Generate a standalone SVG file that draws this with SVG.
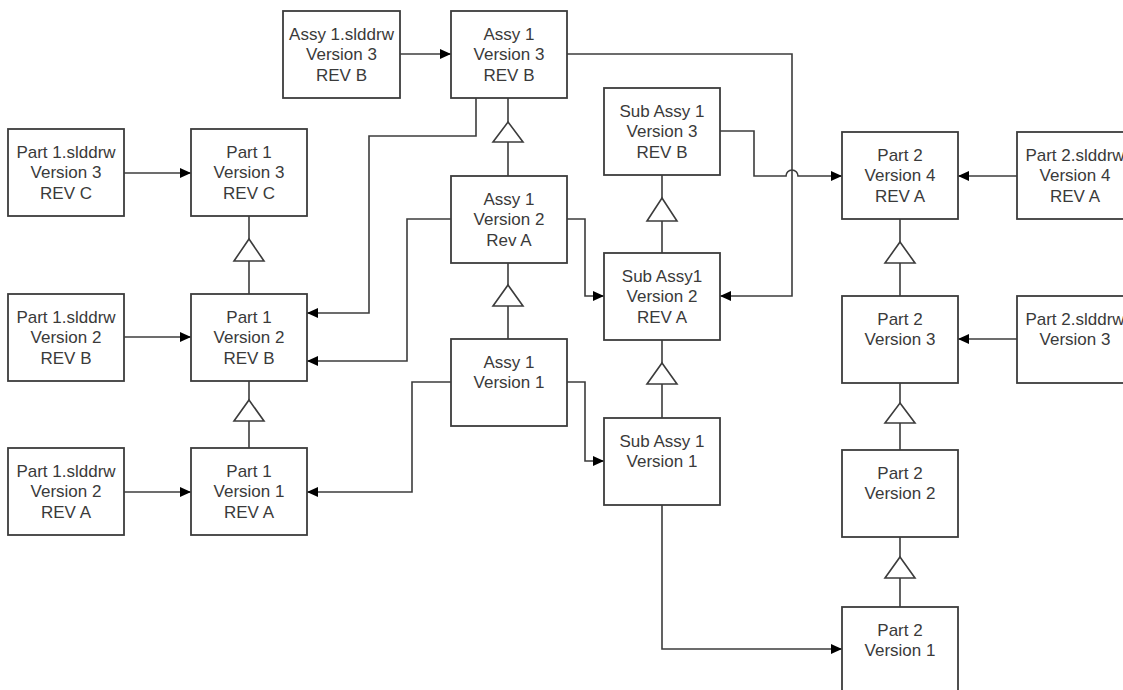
<svg xmlns="http://www.w3.org/2000/svg" width="1123" height="690" viewBox="0 0 1123 690">
<defs>
<style>
.box rect{fill:#fff;stroke:#3c3c3c;stroke-width:1.8}
.box text{font-family:"Liberation Sans",Arial,sans-serif;font-size:17px;fill:#3a3a3a;text-anchor:middle}
.c{fill:none;stroke:#3c3c3c;stroke-width:1.6}
.tri{fill:#fff;stroke:#3c3c3c;stroke-width:1.6}
</style>
<marker id="ah" markerUnits="userSpaceOnUse" markerWidth="12" markerHeight="10" refX="11" refY="5" orient="auto">
<path d="M0,0 L11,5 L0,10 Z" fill="#000"/>
</marker>
</defs>
<rect width="1123" height="690" fill="#fff"/>

<g id="connectors">
<path class="c" d="M400,54 H451" marker-end="url(#ah)"/>
<path class="c" d="M566,54 H792 V296 H720" marker-end="url(#ah)"/>
<path class="c" d="M720,131 H754 V176 H786 A6,6 0 0 1 798,176 H842" marker-end="url(#ah)"/>
<path class="c" d="M1017,176 H958" marker-end="url(#ah)"/>
<path class="c" d="M1017,339 H958" marker-end="url(#ah)"/>
<path class="c" d="M476,98 V136 H369 V313 H307" marker-end="url(#ah)"/>
<path class="c" d="M124,173 H191" marker-end="url(#ah)"/>
<path class="c" d="M451,219 H407 V361 H307" marker-end="url(#ah)"/>
<path class="c" d="M567,219 H585 V296 H604" marker-end="url(#ah)"/>
<path class="c" d="M124,337 H191" marker-end="url(#ah)"/>
<path class="c" d="M451,382 H412 V492 H307" marker-end="url(#ah)"/>
<path class="c" d="M567,382 H585 V461 H604" marker-end="url(#ah)"/>
<path class="c" d="M124,492 H191" marker-end="url(#ah)"/>
<path class="c" d="M662,505 V649 H842" marker-end="url(#ah)"/>
<!-- generalization -->
<path class="c" d="M508,98 V122 M508,142 V176"/>
<polygon class="tri" points="508,122 523,142 493,142"/>
<path class="c" d="M508,263 V285 M508,306 V339"/>
<polygon class="tri" points="508,285 523,306 493,306"/>
<path class="c" d="M249,216 V239 M249,261 V294"/>
<polygon class="tri" points="249,239 264,261 234,261"/>
<path class="c" d="M249,381 V400 M249,421 V448"/>
<polygon class="tri" points="249,400 264,421 234,421"/>
<path class="c" d="M662,175 V198 M662,221 V253"/>
<polygon class="tri" points="662,198 677,221 647,221"/>
<path class="c" d="M662,340 V363 M662,384 V418"/>
<polygon class="tri" points="662,363 677,384 647,384"/>
<path class="c" d="M900,219 V242 M900,263 V296"/>
<polygon class="tri" points="900,242 915,263 885,263"/>
<path class="c" d="M900,383 V403 M900,423 V450"/>
<polygon class="tri" points="900,403 915,423 885,423"/>
<path class="c" d="M900,537 V557 M900,578 V607"/>
<polygon class="tri" points="900,557 915,578 885,578"/>
</g>

<g id="a1d3" class="box"><rect x="283" y="11" width="117" height="87"/><text x="341.5" y="39.5">Assy 1.slddrw</text><text x="341.5" y="60">Version 3</text><text x="341.5" y="80.5">REV B</text></g>
<g id="a1v3" class="box"><rect x="451" y="11" width="116" height="87"/><text x="509" y="39.5">Assy 1</text><text x="509" y="60">Version 3</text><text x="509" y="80.5">REV B</text></g>
<g id="p1d3" class="box"><rect x="8" y="129" width="116" height="87"/><text x="66" y="157.5">Part 1.slddrw</text><text x="66" y="178">Version 3</text><text x="66" y="198.5">REV C</text></g>
<g id="p1v3" class="box"><rect x="191" y="129" width="116" height="87"/><text x="249" y="157.5">Part 1</text><text x="249" y="178">Version 3</text><text x="249" y="198.5">REV C</text></g>
<g id="a1v2" class="box"><rect x="451" y="176" width="116" height="87"/><text x="509" y="204.5">Assy 1</text><text x="509" y="225">Version 2</text><text x="509" y="245.5">Rev A</text></g>
<g id="sa3" class="box"><rect x="604" y="88" width="116" height="87"/><text x="662" y="116.5">Sub Assy 1</text><text x="662" y="137">Version 3</text><text x="662" y="157.5">REV B</text></g>
<g id="p2v4" class="box"><rect x="842" y="132" width="116" height="87"/><text x="900" y="160.5">Part 2</text><text x="900" y="181">Version 4</text><text x="900" y="201.5">REV A</text></g>
<g id="p2d4" class="box"><rect x="1017" y="132" width="116" height="87"/><text x="1075" y="160.5">Part 2.slddrw</text><text x="1075" y="181">Version 4</text><text x="1075" y="201.5">REV A</text></g>
<g id="sa2" class="box"><rect x="604" y="253" width="116" height="87"/><text x="662" y="281.5">Sub Assy1</text><text x="662" y="302">Version 2</text><text x="662" y="322.5">REV A</text></g>
<g id="p1d2b" class="box"><rect x="8" y="294" width="116" height="87"/><text x="66" y="322.5">Part 1.slddrw</text><text x="66" y="343">Version 2</text><text x="66" y="363.5">REV B</text></g>
<g id="p1v2" class="box"><rect x="191" y="294" width="116" height="87"/><text x="249" y="322.5">Part 1</text><text x="249" y="343">Version 2</text><text x="249" y="363.5">REV B</text></g>
<g id="a1v1" class="box"><rect x="451" y="339" width="116" height="87"/><text x="509" y="367.5">Assy 1</text><text x="509" y="388">Version 1</text></g>
<g id="p2v3" class="box"><rect x="842" y="296" width="116" height="87"/><text x="900" y="324.5">Part 2</text><text x="900" y="345">Version 3</text></g>
<g id="p2d3" class="box"><rect x="1017" y="296" width="116" height="87"/><text x="1075" y="324.5">Part 2.slddrw</text><text x="1075" y="345">Version 3</text></g>
<g id="sa1" class="box"><rect x="604" y="418" width="116" height="87"/><text x="662" y="446.5">Sub Assy 1</text><text x="662" y="467">Version 1</text></g>
<g id="p1d2a" class="box"><rect x="8" y="448" width="116" height="87"/><text x="66" y="476.5">Part 1.slddrw</text><text x="66" y="497">Version 2</text><text x="66" y="517.5">REV A</text></g>
<g id="p1v1" class="box"><rect x="191" y="448" width="116" height="87"/><text x="249" y="476.5">Part 1</text><text x="249" y="497">Version 1</text><text x="249" y="517.5">REV A</text></g>
<g id="p2v2" class="box"><rect x="842" y="450" width="116" height="87"/><text x="900" y="478.5">Part 2</text><text x="900" y="499">Version 2</text></g>
<g id="p2v1" class="box"><rect x="842" y="607" width="116" height="87"/><text x="900" y="635.5">Part 2</text><text x="900" y="656">Version 1</text></g>
</svg>
